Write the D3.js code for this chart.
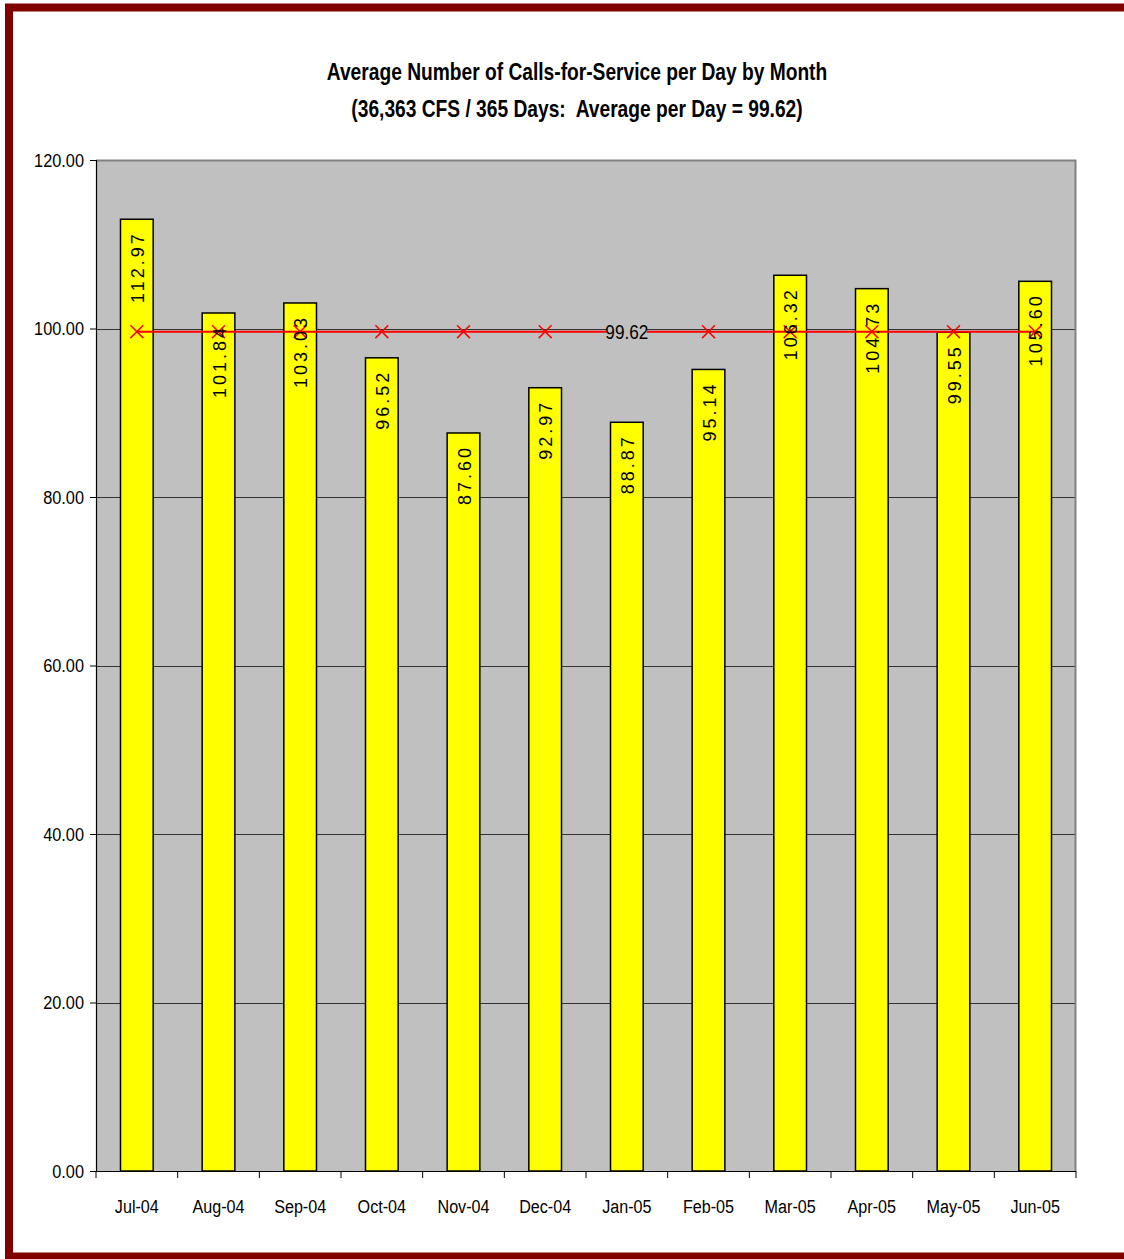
<!DOCTYPE html>
<html>
<head>
<meta charset="utf-8">
<script src="https://cdn.jsdelivr.net/npm/d3@7"></script>
<style>
  html, body { margin: 0; padding: 0; background: #fff; }
  svg { display: block; }
  text { white-space: pre; }
</style>
</head>
<body>
<svg id="chart" width="1124" height="1259"></svg>
<script>
// Monthly average calls-for-service per day, FY 2004-05
const months = ["Jul-04","Aug-04","Sep-04","Oct-04","Nov-04","Dec-04","Jan-05","Feb-05","Mar-05","Apr-05","May-05","Jun-05"];
const dailyAverage = [112.97, 101.84, 103.03, 96.52, 87.60, 92.97, 88.87, 95.14, 106.32, 104.73, 99.55, 105.60];
const yearAverage = [99.62, 99.62, 99.62, 99.62, 99.62, 99.62, 99.62, 99.62, 99.62, 99.62, 99.62, 99.62];
const yTicks = [0, 20, 40, 60, 80, 100, 120];
const titleLines = ["Average Number of Calls-for-Service per Day by Month",
                    "(36,363 CFS / 365 Days:  Average per Day = 99.62)"];

const svg = d3.select("#chart");
const W = 1124, H = 1259;
const sans = "'Liberation Sans', Arial, sans-serif";
const plot = { left: 96, right: 1076, top: 160, bottom: 1171 };

// condensed text: a group scaled horizontally around its anchor point
function narrowText(parent, tx, ty, sx, str, opts) {
  const g = parent.append("g").attr("transform", `translate(${tx},${ty}) scale(${sx},1)`);
  return g.append("text")
    .attr("text-anchor", opts.anchor || "middle")
    .attr("dy", opts.dy || null)
    .attr("font-family", sans)
    .attr("font-weight", opts.weight || "normal")
    .attr("font-size", opts.size)
    .attr("fill", "#000")
    .text(str);
}

// outer frame (maroon, clipped at the right edge)
svg.append("rect").attr("x", 0).attr("y", 0).attr("width", W).attr("height", H).attr("fill", "#fff");
svg.append("rect").attr("x", 9).attr("y", 7.5).attr("width", W + 20).attr("height", 1249)
  .attr("fill", "none").attr("stroke", "#800000").attr("stroke-width", 8);

// title
const titleG = svg.append("g");
titleLines.forEach((t, i) => narrowText(titleG, 577, 80 + i * 37, 0.8, t, { size: 24, weight: "bold" }));

const x = d3.scaleBand().domain(months).range([plot.left, plot.right]).paddingInner(0.6).paddingOuter(0.3);
const xc = d3.scalePoint().domain(months).range([plot.left, plot.right]).padding(0.5);
const y = d3.scaleLinear().domain([0, 120]).range([plot.bottom, plot.top]);

// plot area background
svg.append("rect").attr("x", plot.left).attr("y", plot.top)
  .attr("width", plot.right - plot.left).attr("height", plot.bottom - plot.top)
  .attr("fill", "#c0c0c0");

// horizontal gridlines
svg.append("g").selectAll("line").data(yTicks.filter(t => t > 0 && t < 120)).join("line")
  .attr("x1", plot.left).attr("x2", plot.right)
  .attr("y1", d => Math.round(y(d)) + 0.5).attr("y2", d => Math.round(y(d)) + 0.5)
  .attr("stroke", "#333").attr("stroke-width", 1);

// plot border top/right
svg.append("path")
  .attr("d", `M${plot.left},${plot.top + 0.5}H${plot.right - 0.5}V${plot.bottom}`)
  .attr("fill", "none").attr("stroke", "#808080").attr("stroke-width", 2);

// bars
svg.append("g").selectAll("rect").data(months).join("rect")
  .attr("x", d => x(d)).attr("width", x.bandwidth())
  .attr("y", (d, i) => y(dailyAverage[i]))
  .attr("height", (d, i) => y(0) - y(dailyAverage[i]))
  .attr("fill", "#ffff00").attr("stroke", "#000").attr("stroke-width", 1.5);

// y axis
const yAxis = d3.axisLeft(y).tickValues(yTicks).tickSize(6).tickFormat("");
const ya = svg.append("g").attr("transform", `translate(${plot.left},0)`).call(yAxis);
ya.select(".domain").attr("stroke", "#000").attr("stroke-width", 1.2);
ya.selectAll(".tick line").attr("stroke", "#000");
const fmt = d3.format(".2f");
const yLab = svg.append("g");
yTicks.forEach(t => narrowText(yLab, plot.left - 12, y(t), 0.86, fmt(t), { size: 19, anchor: "end", dy: "0.35em" }));

// x axis with ticks at category boundaries
const xa = svg.append("g").attr("transform", `translate(0,${plot.bottom})`);
xa.append("line").attr("x1", plot.left).attr("x2", plot.right).attr("y1", 0.5).attr("y2", 0.5)
  .attr("stroke", "#000").attr("stroke-width", 1.2);
const step = (plot.right - plot.left) / months.length;
xa.selectAll("line.tk").data(d3.range(months.length + 1)).join("line").attr("class", "tk")
  .attr("x1", i => plot.left + i * step).attr("x2", i => plot.left + i * step)
  .attr("y1", 0).attr("y2", 7).attr("stroke", "#000");
months.forEach(m => narrowText(xa, xc(m), 42, 0.85, m, { size: 19 }));

// yearly average line with markers
const line = d3.line().x((d, i) => xc(months[i])).y(d => y(d));
svg.append("path").datum(yearAverage).attr("d", line)
  .attr("fill", "none").attr("stroke", "#ff0000").attr("stroke-width", 2);
const sym = d3.symbol().type(d3.symbolX).size(110);
svg.append("g").selectAll("path").data(yearAverage).join("path")
  .attr("transform", (d, i) => `translate(${xc(months[i])},${y(d)})`)
  .attr("d", sym).attr("fill", "none").attr("stroke", "#ff0000").attr("stroke-width", 1.5);

// average label (on Jan-05), with plot-coloured background
const avgIdx = 6;
const avgG = svg.append("g").attr("transform", `translate(${xc(months[avgIdx])},${y(yearAverage[avgIdx])})`);
avgG.append("rect").attr("x", -20).attr("y", -10).attr("width", 40).attr("height", 20).attr("fill", "#c0c0c0");
narrowText(avgG, 0, 0, 0.86, yearAverage[avgIdx].toFixed(2), { size: 20, dy: "0.36em" });

// bar value labels, rotated, inside the top of each bar
svg.append("g").selectAll("text").data(months).join("text")
  .attr("transform", (d, i) => `translate(${x(d) + x.bandwidth() / 2 + 7},${y(dailyAverage[i]) + 12}) rotate(-90)`)
  .attr("text-anchor", "end")
  .attr("font-family", sans).attr("font-size", 18)
  .attr("letter-spacing", 3).attr("fill", "#000")
  .text((d, i) => dailyAverage[i].toFixed(2));
</script>
</body>
</html>
